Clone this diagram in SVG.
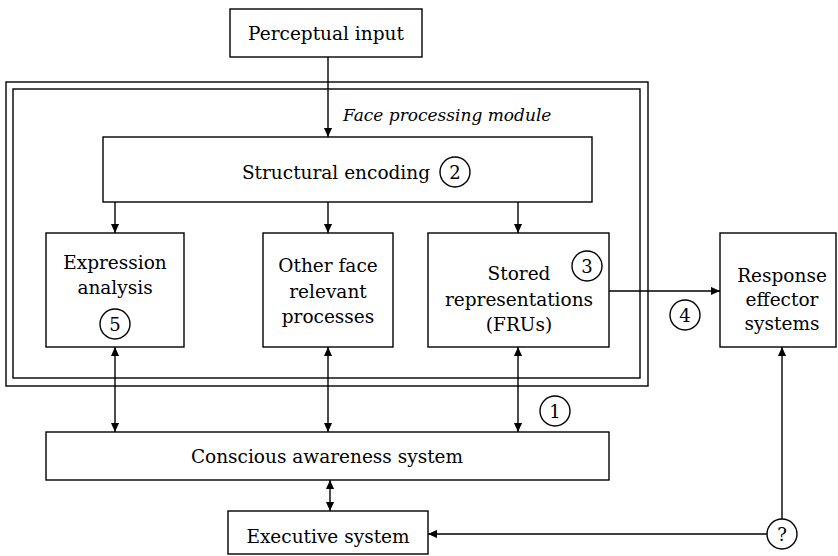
<svg xmlns="http://www.w3.org/2000/svg" width="838" height="556" viewBox="0 0 838 556">
<defs>
<marker id="ah" viewBox="0 0 10 10" refX="10" refY="5" markerWidth="9" markerHeight="9" markerUnits="userSpaceOnUse" orient="auto-start-reverse">
<path d="M0,0.5 L10,5 L0,9.5 Z" fill="#000"/>
</marker>
<style>
.box{fill:#fff;stroke:#000;stroke-width:1.4}
.frame{fill:none;stroke:#000;stroke-width:1.4}
.t{font-family:"DejaVu Serif","Liberation Serif",serif;font-size:18.5px;fill:#000;text-anchor:middle}
.it{font-family:"DejaVu Serif","Liberation Serif",serif;font-size:17px;font-style:italic;fill:#000}
.num{font-family:"DejaVu Serif","Liberation Serif",serif;font-size:18px;fill:#000;text-anchor:middle}
.circ{fill:#fff;stroke:#000;stroke-width:1.4}
.c{fill:none;stroke:#000;stroke-width:1.4}
</style>
</defs>
<rect width="838" height="556" fill="#fff"/>

<g id="module-frame">
<rect class="frame" x="6" y="82" width="642" height="304"/>
<rect class="frame" x="13" y="89" width="627" height="289"/>
<text class="it" x="343" y="121">Face processing module</text>
</g>

<g id="connectors">
<line class="c" x1="328" y1="57" x2="328" y2="137" marker-end="url(#ah)"/>
<line class="c" x1="115" y1="202" x2="115" y2="233" marker-end="url(#ah)"/>
<line class="c" x1="328" y1="202" x2="328" y2="233" marker-end="url(#ah)"/>
<line class="c" x1="518" y1="202" x2="518" y2="233" marker-end="url(#ah)"/>
<line class="c" x1="115" y1="347" x2="115" y2="432" marker-start="url(#ah)" marker-end="url(#ah)"/>
<line class="c" x1="328" y1="347" x2="328" y2="432" marker-start="url(#ah)" marker-end="url(#ah)"/>
<line class="c" x1="518" y1="347" x2="518" y2="432" marker-start="url(#ah)" marker-end="url(#ah)"/>
<line class="c" x1="609" y1="291" x2="720" y2="291" marker-end="url(#ah)"/>
<line class="c" x1="330" y1="480" x2="330" y2="511" marker-start="url(#ah)" marker-end="url(#ah)"/>
<line class="c" x1="767" y1="534" x2="428" y2="534" marker-end="url(#ah)"/>
<line class="c" x1="782" y1="519" x2="782" y2="347" marker-end="url(#ah)"/>
</g>

<g id="perceptual-input">
<rect class="box" x="230" y="9" width="192" height="48"/>
<text class="t" x="326" y="40">Perceptual input</text>
</g>

<g id="structural-encoding">
<rect class="box" x="103" y="137" width="489" height="65"/>
<text class="t" x="336" y="179">Structural encoding</text>
<circle class="circ" cx="455" cy="172" r="15"/>
<text class="num" x="455" y="178.5">2</text>
</g>

<g id="expression-analysis">
<rect class="box" x="46" y="233" width="138" height="114"/>
<text class="t" x="115" y="269">Expression</text>
<text class="t" x="115" y="294">analysis</text>
<circle class="circ" cx="115" cy="324" r="15"/>
<text class="num" x="115" y="330.5">5</text>
</g>

<g id="other-face">
<rect class="box" x="263" y="233" width="130" height="114"/>
<text class="t" x="328" y="272">Other face</text>
<text class="t" x="328" y="298">relevant</text>
<text class="t" x="328" y="323">processes</text>
</g>

<g id="stored-representations">
<rect class="box" x="428" y="233" width="181" height="114"/>
<text class="t" x="519" y="280">Stored</text>
<text class="t" x="519" y="306">representations</text>
<text class="t" x="519" y="331">(FRUs)</text>
<circle class="circ" cx="587" cy="266" r="15"/>
<text class="num" x="587" y="272.5">3</text>
</g>

<g id="response-effector">
<rect class="box" x="720" y="233" width="116" height="114"/>
<text class="t" x="782" y="282">Response</text>
<text class="t" x="782" y="306">effector</text>
<text class="t" x="782" y="330">systems</text>
</g>

<g id="label-4">
<circle class="circ" cx="685" cy="315" r="15"/>
<text class="num" x="685" y="321.5">4</text>
</g>

<g id="label-1">
<circle class="circ" cx="555" cy="411" r="15"/>
<text class="num" x="555" y="417.5">1</text>
</g>

<g id="conscious-awareness">
<rect class="box" x="46" y="432" width="563" height="48"/>
<text class="t" x="327" y="463">Conscious awareness system</text>
</g>

<g id="executive-system">
<rect class="box" x="228" y="511" width="200" height="43"/>
<text class="t" x="328" y="543">Executive system</text>
</g>

<g id="unknown">
<circle class="circ" cx="782" cy="534" r="15"/>
<text class="num" x="782" y="540.5">?</text>
</g>
</svg>
